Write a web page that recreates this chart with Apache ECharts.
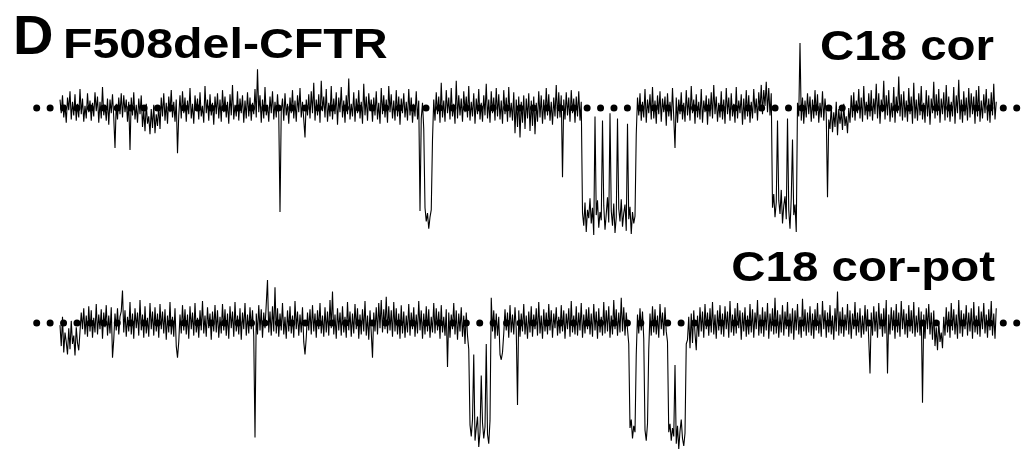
<!DOCTYPE html>
<html>
<head>
<meta charset="utf-8">
<script src="https://cdn.jsdelivr.net/npm/echarts@6/dist/echarts.min.js"></script>
<style>
html,body{margin:0;padding:0;background:#fff;}
#chart{width:1026px;height:461px;}
</style>
</head>
<body>
<div id="chart"></div>
<script>
// Normalized single-channel current (% of unitary amplitude; 0 = closed, about -100 = open)
const panelLabel = "D";
const constructLabel = "F508del-CFTR";
const traceLabels = ["C18 cor", "C18 cor-pot"];

// sampling of the displayed sweeps (ms)
const sweepStart = 23.3;
const sampleInterval = 1.25;
const closedLevel = 0;
const closedLevelSpan = [0, 981];

const currentCor = [
 8,-5,12,-9,3,-14,10,-2,16,-11,6,-7,13,-12,4,-9,18,-6,9,-13,2,-10,14,-4,7,
 -12,5,-8,15,-3,11,-14,6,-10,20,-7,3,-12,9,-16,8,-5,13,-9,-38,4,-11,10,-6,14,
 -9,12,-4,8,-13,6,-40,10,-7,15,-11,3,-14,9,-6,12,-18,-2,-22,4,-15,-8,-25,-1,-19,
 3,-24,-6,-17,2,-20,10,-8,14,-12,5,-15,11,-4,17,-9,6,-13,8,-43,-7,12,-10,16,-5,
 10,-13,7,-6,19,-10,4,-15,12,-3,9,-11,15,-8,2,-14,21,-5,8,-12,13,-7,5,-16,11,
 -6,14,-10,8,-13,17,-4,11,-9,6,-15,13,-7,22,-11,3,-8,16,-12,9,-5,12,-14,7,-10,
 15,-8,10,-12,5,-6,18,-9,37,-4,12,-14,8,-10,20,-7,3,-13,11,-5,16,-11,6,-9,13,
 -6,-99,-3,9,-12,14,-7,4,-15,10,-5,17,-10,7,-13,12,-4,19,-9,6,-11,-28,8,-7,13,
 -10,16,-5,24,-12,8,-7,13,-14,26,-3,11,-9,18,-13,5,-8,21,-11,9,-6,15,-16,10,-4,
 20,-9,7,-14,12,-6,28,-11,4,-8,15,-13,9,-5,17,-10,6,-15,23,-7,11,-12,14,-3,8,
 -13,10,-7,16,-11,5,-15,19,-6,12,-9,8,-14,21,-4,13,-10,7,-12,17,-8,11,-16,9,-5,
 14,-9,6,-12,18,-7,10,-14,4,-8,16,-11,7,-98,-10,5,-20,-95,-108,-100,-115,-104,-97,-30,8,
 -12,15,-6,11,-14,24,-9,7,-13,17,-5,10,-11,19,-8,4,-15,26,-10,12,-7,9,-13,16,-4,
 11,-9,21,-12,6,-8,14,-15,9,-6,18,-11,5,-13,12,-7,23,-10,8,-14,16,-5,10,-12,19,
 -8,13,-11,7,-15,17,-6,10,-13,20,-9,5,-12,15,-24,8,-18,11,-28,6,-14,12,-20,9,-10,
 14,-22,7,-17,11,-25,5,-13,16,-9,12,-15,8,-11,19,-7,13,-12,6,-16,10,-8,22,-10,15,
 -9,12,-66,8,-11,15,-7,10,-13,17,-5,9,-14,11,-8,16,-12,6,-100,-112,-90,-118,-97,-105,-86,
 -110,-95,-121,-8,-102,-88,-114,-99,-107,-12,-93,-116,-101,-85,-109,-5,-98,-112,-91,-119,-104,-10,-96,-108,-87,
 -113,-100,-92,-117,-15,-106,-94,-120,-99,-110,-103,-25,10,-7,14,-12,6,-9,18,-14,8,-5,13,-11,20,
 -10,7,-15,12,-6,16,-13,9,-4,11,-17,14,-8,6,-12,19,-9,-38,10,-14,8,-6,15,-11,5,
 -13,17,-7,10,-12,21,-5,8,-15,13,-9,6,-11,18,-14,7,-4,12,-16,9,-8,15,-10,22,-6,
 11,-13,5,-9,16,-11,8,-15,19,-6,10,-12,14,-8,4,-14,20,-10,7,-5,13,-16,9,-11,17,
 -8,12,-14,6,-10,18,-5,9,-12,15,-3,22,-6,17,2,25,-4,19,-7,14,-95,-82,-104,-90,-12,
 -88,-101,-78,-110,-93,-84,-106,-10,-97,-115,-86,-30,-102,-92,-118,5,-8,62,-12,10,-15,7,-9,14,-6,
 11,-13,8,-10,17,-7,13,-14,5,-9,16,-12,9,-6,-85,-11,-20,2,-23,-4,-18,6,-26,-1,-15,
 -3,-21,4,-17,-8,-24,0,-14,12,-9,15,-12,7,-5,18,-10,10,-13,21,-7,6,-11,14,-8,17,
 -12,9,-6,23,-10,14,-15,8,-4,26,-11,12,-7,17,-13,5,-9,20,-14,11,-5,30,-8,13,-12,
 16,-9,7,-13,19,-6,11,-15,24,-10,8,-12,14,-7,21,-11,5,-14,17,-8,12,-16,9,-5,25,
 -10,13,-7,18,-14,9,-6,15,-12,22,-9,11,-13,6,-8,20,-15,12,-5,27,-11,8,-14,16,-7,
 10,-12,19,-9,14,-6,11,-15,17,-8,21,-13,7,-10,13,-5,18,-12,9,-14,15,-7,23,-11,6
];

const currentCorPot = [
 -2,-22,6,-28,-9,-18,-30,-5,-25,2,-20,-12,-31,-4,-19,-26,-8,10,-6,14,-11,7,-13,16,-8,
 12,-14,5,-9,18,-11,8,-6,13,-15,10,-4,17,-12,7,-10,15,-33,-16,9,-7,14,-11,6,11,
 31,-9,12,-13,6,-8,20,-11,9,-15,14,-5,10,-12,22,-7,8,-14,16,-10,5,-13,19,-6,11,
 -12,15,-8,9,-14,18,-6,11,-10,13,-16,7,-9,20,-11,6,-13,14,-22,-33,-18,8,-10,17,-7,
 13,-11,8,-15,16,-6,10,-12,19,-9,5,-14,12,-7,21,-10,7,-13,15,-5,9,-16,11,-8,17,
 -9,12,-14,6,-10,18,-7,13,-12,9,-15,16,-5,11,-13,20,-8,7,-11,14,-16,10,-6,19,-12,
 8,-10,15,-6,12,-13,-109,9,-11,17,-7,13,-14,10,-5,18,41,-9,11,-12,16,-8,34,-10,14,
 -13,9,-7,19,-11,6,-15,12,-8,16,-10,7,-14,21,-6,11,-12,8,-9,15,-18,-30,-14,10,-7,
 13,-11,17,-8,9,-14,12,-6,19,-10,7,-13,15,-9,11,-12,22,-5,30,-11,8,-15,14,-7,10,
 -12,16,-9,6,-14,20,-7,11,-13,9,-10,18,-6,14,-15,8,-11,13,-8,21,-12,7,-16,12,-9,
 -33,10,-8,15,-11,19,-5,22,-9,13,-6,25,-10,16,-7,12,-13,20,-8,14,-11,9,-15,17,-10,
 11,-14,7,-9,18,-12,10,-6,15,-13,8,-10,21,-7,12,-15,9,-11,16,-8,13,-14,6,-9,19,
 -10,14,-7,11,-15,17,-9,6,-12,13,-42,10,-14,8,-6,19,-11,12,-16,9,-8,15,-13,7,-20,
 10,-12,-25,-97,-108,-92,-30,-112,-100,-89,-118,-104,-50,-95,-110,-99,-20,-106,-115,-93,24,-8,12,-15,9,
 -12,6,-30,-35,-28,-10,13,-7,10,-14,17,-9,8,-11,15,-6,-78,12,-13,9,-8,18,-11,7,-15,
 11,-9,16,-13,8,-6,14,-12,20,-10,7,-15,13,-8,10,-11,18,-7,12,-14,9,-5,15,-12,6,
 -10,17,-8,12,-15,9,-6,14,-13,21,-9,7,-11,16,-12,10,-7,19,-14,8,-10,13,-6,15,-11,
 9,-13,18,-7,11,-15,14,-9,6,-12,20,-10,12,-8,16,-14,7,-11,22,-6,13,-12,10,-9,24,
 -8,15,-12,10,-6,-20,-100,-92,-110,-98,-104,-30,8,-10,14,-7,11,-15,-102,-112,-96,-25,9,-12,16,
 -9,13,-11,7,-14,18,-6,10,-12,15,-8,-18,-104,-96,-112,-100,-108,-40,-115,-98,-120,-103,-92,-110,-117,
 -105,-20,-16,6,-24,9,-19,12,-10,-26,7,-13,15,-8,11,-14,18,-6,10,-12,14,-9,20,-11,8,
 -15,12,-7,17,-11,9,-13,16,-6,11,-14,21,-9,8,-12,14,-10,19,-5,12,-16,10,-8,15,-13,
 7,-11,18,-9,13,-14,10,-6,22,-12,8,-10,15,-13,11,-7,19,-15,9,-8,14,-11,24,-10,12,
 -14,8,-9,17,-12,11,-6,20,-13,9,-10,14,-16,12,-7,18,-11,6,-14,23,-8,13,-12,10,-9,
 16,-12,9,-15,13,-7,19,-10,8,-13,21,-6,12,-14,10,-9,17,-11,7,-16,14,-8,30,-12,11,
 -10,15,-13,8,-7,18,-11,12,-15,9,-6,20,-12,10,-9,14,-14,7,-11,17,-8,13,-16,-48,10,
 -12,16,-8,11,-14,19,-6,9,-13,14,-10,22,-48,8,-11,15,-7,12,-15,18,-9,10,-13,21,-6,
 13,-11,9,-14,17,-8,12,-10,20,-13,7,-9,15,-12,11,-76,8,-15,14,-6,18,-11,10,-16,12,
 -22,-4,-26,2,-18,-9,-24,6,-12,15,-9,11,-14,19,-7,13,-11,8,-15,22,-10,12,-13,9,-6,
 17,-12,10,-8,14,-15,20,-9,7,-11,16,-13,11,-6,19,-10,8,-14,13,-7,21,-12,9,-15,14
];

function toSeriesData(values) {
  return values.map((v, i) => [sweepStart + i * sampleInterval, v]);
}

const chart = echarts.init(document.getElementById('chart'), null, {renderer: 'canvas'});

const titleFont = 'bold 42px "Liberation Sans", Arial, sans-serif';
const traceStyle = {color: '#000', width: 1.1};
const closedStyle = {color: '#000', width: 7, type: [0, 13.425], cap: 'round'};

const option = {
  animation: false,
  backgroundColor: '#ffffff',
  grid: [
    {left: 36.7, width: 980, top: 34.5, height: 210},
    {left: 36.7, width: 980, top: 249.5, height: 210}
  ],
  xAxis: [
    {gridIndex: 0, type: 'value', min: 0, max: 980, show: false},
    {gridIndex: 1, type: 'value', min: 0, max: 980, show: false}
  ],
  yAxis: [
    {gridIndex: 0, type: 'value', min: -130, max: 70, show: false},
    {gridIndex: 1, type: 'value', min: -130, max: 70, show: false}
  ],
  series: [
    {
      name: traceLabels[0], type: 'line', xAxisIndex: 0, yAxisIndex: 0,
      data: toSeriesData(currentCor), showSymbol: false, symbol: 'none', clip: false,
      lineStyle: traceStyle, z: 2
    },
    {
      name: traceLabels[1], type: 'line', xAxisIndex: 1, yAxisIndex: 1,
      data: toSeriesData(currentCorPot), showSymbol: false, symbol: 'none', clip: false,
      lineStyle: traceStyle, z: 2
    },
    {
      name: 'closed-cor', type: 'line', xAxisIndex: 0, yAxisIndex: 0,
      data: closedLevelSpan.map(t => [t, closedLevel]), symbol: 'none', clip: false,
      lineStyle: closedStyle, z: 3, silent: true
    },
    {
      name: 'closed-corpot', type: 'line', xAxisIndex: 1, yAxisIndex: 1,
      data: closedLevelSpan.map(t => [t, closedLevel]), symbol: 'none', clip: false,
      lineStyle: closedStyle, z: 3, silent: true
    }
  ],
  graphic: [
    {type: 'text', x: 13, y: 39, style: {text: panelLabel, font: 'bold 56px "Liberation Sans", Arial, sans-serif', fill: '#000', textAlign: 'left', textVerticalAlign: 'middle'}},
    {type: 'text', x: 63, y: 46, scaleX: 1.15, style: {text: constructLabel, font: titleFont, fill: '#000', textAlign: 'left', textVerticalAlign: 'middle'}},
    {type: 'text', x: 994, y: 48, scaleX: 1.13, style: {text: traceLabels[0], font: titleFont, fill: '#000', textAlign: 'right', textVerticalAlign: 'middle'}},
    {type: 'text', x: 995, y: 269, scaleX: 1.13, style: {text: traceLabels[1], font: titleFont, fill: '#000', textAlign: 'right', textVerticalAlign: 'middle'}}
  ]
};
chart.setOption(option);
</script>
</body>
</html>
